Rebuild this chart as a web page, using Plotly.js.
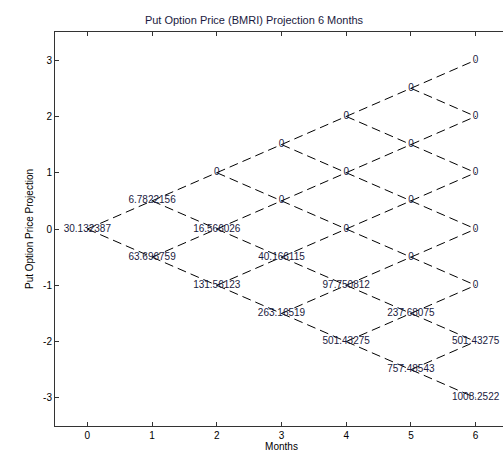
<!DOCTYPE html>
<html>
<head>
<meta charset="utf-8">
<script src="https://cdn.plot.ly/plotly-3.0.1.min.js"></script>
<style>
html,body{margin:0;padding:0;overflow:hidden;background:#fff;}
#chart{width:508px;height:452px;}
</style>
</head>
<body>
<div id="chart"></div>
<script>
// Node values of the put option binomial tree, one array per month (top node first)
const months = [0, 1, 2, 3, 4, 5, 6];
const month0 = ["30.132387"];
const month1 = ["6.7822156", "63.696759"];
const month2 = ["0", "16.566026", "131.56123"];
const month3 = ["0", "0", "40.166115", "263.16519"];
const month4 = ["0", "0", "0", "97.750812", "501.43275"];
const month5 = ["0", "0", "0", "0", "237.68075", "757.48543"];
const month6 = ["0", "0", "0", "0", "0", "501.43275", "1008.2522"];
const nodeValues = [month0, month1, month2, month3, month4, month5, month6];
const xTicks = [0, 1, 2, 3, 4, 5, 6];
const yTicks = [-3, -2, -1, 0, 1, 2, 3];

// tree level position: node k at month i sits at (i - 2k)/2
function level(i, k) { return (i - 2 * k) / 2; }

const lx = [], ly = [];
const tx = [], ty = [], tt = [];
months.forEach(function (m, i) {
  nodeValues[i].forEach(function (v, k) {
    const y = level(i, k);
    tx.push(m); ty.push(y); tt.push(v);
    if (i < months.length - 1) {
      lx.push(m, months[i + 1], null);
      ly.push(y, level(i + 1, k), null);
      lx.push(m, months[i + 1], null);
      ly.push(y, level(i + 1, k + 1), null);
    }
  });
});

const traces = [
  {
    x: lx, y: ly, type: 'scatter', mode: 'lines',
    line: {color: '#000000', width: 1, dash: '9px,5px'},
    hoverinfo: 'skip', showlegend: false, connectgaps: false
  },
  {
    x: tx, y: ty, text: tt, type: 'scatter', mode: 'text',
    textposition: 'middle center',
    textfont: {family: 'Liberation Sans, Arial, sans-serif', size: 10, color: '#1a1a40'},
    hoverinfo: 'skip', showlegend: false
  }
];

const axisFont = {family: 'Liberation Sans, Arial, sans-serif', size: 10, color: '#000'};
const layout = {
  width: 508, height: 452,
  margin: {l: 55, r: 0, t: 32, b: 26, pad: 0},
  paper_bgcolor: '#ffffff', plot_bgcolor: '#ffffff',
  showlegend: false,
  title: {
    text: 'Put Option Price (BMRI) Projection 6 Months',
    font: {family: 'Liberation Sans, Arial, sans-serif', size: 11, color: '#1a1a40'},
    x: 0.5, xanchor: 'center', y: 1, yref: 'paper', yanchor: 'bottom', pad: {b: 8}
  },
  xaxis: {
    range: [-0.5, 6.5], tickvals: xTicks, ticktext: xTicks.map(String),
    showgrid: false, zeroline: false,
    showline: true, linecolor: '#333', linewidth: 1, mirror: 'ticks',
    ticks: 'inside', ticklen: 4, tickcolor: '#333',
    tickfont: axisFont,
    title: {text: 'Months', font: axisFont, standoff: 6}
  },
  yaxis: {
    range: [-3.5, 3.5], tickvals: yTicks, ticktext: yTicks.map(String),
    showgrid: false, zeroline: false,
    showline: true, linecolor: '#333', linewidth: 1, mirror: 'ticks',
    ticks: 'inside', ticklen: 4, tickcolor: '#333',
    tickfont: axisFont,
    title: {text: 'Put Option Price Projection', font: axisFont, standoff: 7}
  }
};

Plotly.newPlot('chart', traces, layout, {displayModeBar: false, staticPlot: true});
</script>
</body>
</html>
